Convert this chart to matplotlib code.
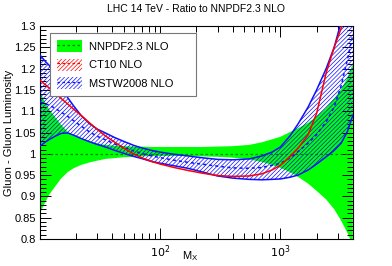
import matplotlib

matplotlib.use("Agg")
import matplotlib.pyplot as plt
from matplotlib.lines import Line2D
from matplotlib.patches import Patch
from matplotlib.ticker import FixedLocator, FormatStrFormatter, MultipleLocator, NullFormatter

# invariant mass grid (GeV)
MX = [10, 11, 12, 13.5, 15, 17, 19, 22, 26, 30, 35, 42, 50, 60, 70, 85, 100, 130, 170,
      220, 300, 400, 550, 700, 850, 1000, 1200, 1400, 1700, 2000, 2400, 2800, 3200, 3600, 4000]

# NNPDF2.3 NLO band (ratio to itself, central = 1)
NNPDF_UP = [1.145, 1.122, 1.103, 1.085, 1.068, 1.052, 1.043, 1.036, 1.029, 1.024, 1.021, 1.019,
            1.018, 1.017, 1.017, 1.016, 1.016, 1.016, 1.016, 1.016, 1.017, 1.018, 1.021, 1.027,
            1.034, 1.040, 1.051, 1.060, 1.073, 1.088, 1.108, 1.130, 1.152, 1.178, 1.212]
NNPDF_LO = [0.860, 0.885, 0.905, 0.925, 0.942, 0.957, 0.966, 0.974, 0.980, 0.984, 0.988, 0.990,
            0.992, 0.993, 0.994, 0.995, 0.995, 0.995, 0.995, 0.994, 0.993, 0.991, 0.987, 0.981,
            0.974, 0.967, 0.957, 0.946, 0.930, 0.913, 0.893, 0.870, 0.843, 0.815, 0.785]

# MSTW2008 NLO
MSTW_C = [1.122, 1.118, 1.114, 1.106, 1.098, 1.088, 1.078, 1.065, 1.051, 1.041, 1.033, 1.023,
          1.015, 1.007, 1.001, 0.995, 0.991, 0.985, 0.980, 0.976, 0.971, 0.967, 0.966, 0.968,
          0.973, 0.978, 0.990, 1.005, 1.025, 1.045, 1.075, 1.110, 1.160, 1.220, 1.280]
MSTW_UP = [1.232, 1.218, 1.207, 1.180, 1.155, 1.132, 1.113, 1.090, 1.070, 1.058, 1.049, 1.038,
           1.029, 1.020, 1.014, 1.008, 1.004, 0.999, 0.995, 0.991, 0.987, 0.986, 0.988, 0.995,
           1.004, 1.016, 1.042, 1.070, 1.110, 1.150, 1.200, 1.250, 1.310, 1.370, 1.430]
MSTW_LO = [1.018, 1.027, 1.034, 1.042, 1.048, 1.049, 1.044, 1.036, 1.028, 1.022, 1.016, 1.008,
           1.001, 0.994, 0.989, 0.982, 0.978, 0.972, 0.966, 0.958, 0.948, 0.943, 0.940, 0.939,
           0.940, 0.941, 0.945, 0.950, 0.962, 0.976, 0.993, 1.008, 1.025, 1.052, 1.090]

# CT10 NLO
CT10_C = [1.173, 1.163, 1.154, 1.141, 1.130, 1.117, 1.105, 1.090, 1.072, 1.057, 1.042, 1.027,
          1.013, 1.000, 0.991, 0.982, 0.976, 0.968, 0.961, 0.955, 0.949, 0.947, 0.948, 0.953,
          0.962, 0.973, 0.993, 1.013, 1.045, 1.095, 1.190, 1.250, 1.295, 1.340, 1.380]

GREEN = "#00ff00"
DKGREEN = "#008000"
BLUE = "#1010ff"
RED = "#ff0000"
HATCH = "////////"


def configure_style() -> None:
    plt.rcParams.update(
        {
            "font.family": ["Liberation Sans", "DejaVu Sans"],
            "font.size": 8,
            "hatch.linewidth": 0.5,
            "axes.linewidth": 0.8,
        }
    )


def main() -> None:
    configure_style()
    fig = plt.figure(figsize=(3.92, 2.66), dpi=100)
    ax = fig.add_axes([0.102, 0.1015, 0.798, 0.8005])

    ones = [1.0] * len(MX)

    # NNPDF band
    ax.fill_between(MX, NNPDF_LO, NNPDF_UP, facecolor=GREEN, edgecolor="none", zorder=1)
    ax.plot(MX, ones, color=DKGREEN, lw=0.9, ls=(0, (2, 2)), zorder=2)

    # MSTW band
    ax.fill_between(MX, MSTW_LO, MSTW_UP, facecolor="none", edgecolor=BLUE,
                    hatch=HATCH, linewidth=0, zorder=3)
    ax.plot(MX, MSTW_UP, color=BLUE, lw=1.1, zorder=4)
    ax.plot(MX, MSTW_LO, color=BLUE, lw=1.1, zorder=4)
    ax.plot(MX, MSTW_C, color=BLUE, lw=1.1, ls=(0, (2, 2)), zorder=4)

    # CT10
    ax.plot(MX, CT10_C, color=RED, lw=1.1, zorder=5)

    ax.set_xscale("log")
    ax.set_xlim(10, 4000)
    ax.set_ylim(0.8, 1.3)

    ax.xaxis.set_major_locator(FixedLocator([100, 1000]))
    ax.set_xticklabels([r"$10^2$", r"$10^3$"])
    minors = [m * d for d in (10, 100, 1000) for m in range(2, 10) if 10 < m * d < 4000]
    ax.xaxis.set_minor_locator(FixedLocator(minors))
    ax.xaxis.set_minor_formatter(NullFormatter())

    ax.yaxis.set_major_locator(MultipleLocator(0.05))
    ax.yaxis.set_minor_locator(MultipleLocator(0.01))
    ax.yaxis.set_major_formatter(FormatStrFormatter("%g"))

    ax.tick_params(which="both", direction="in", top=True, right=True, labelsize=8)
    ax.tick_params(which="major", length=8, width=0.7, pad=3)
    ax.tick_params(which="minor", length=4, width=0.7)

    handles = [
        (Patch(facecolor=GREEN, edgecolor="none"),
         Line2D([], [], color=DKGREEN, lw=0.9, ls=(0, (2, 2)))),
        (Patch(facecolor="none", edgecolor=RED, hatch=HATCH, lw=0),
         Line2D([], [], color=RED, lw=0.9, ls=(0, (2, 2)))),
        (Patch(facecolor="none", edgecolor=BLUE, hatch=HATCH, lw=0),
         Line2D([], [], color=BLUE, lw=0.9, ls=(0, (2, 2)))),
    ]
    labels = ["NNPDF2.3 NLO", "CT10 NLO", "MSTW2008 NLO"]
    leg = ax.legend(handles, labels, loc="upper left", bbox_to_anchor=(0.032, 0.967, 0.467, 0.0),
                    mode="expand", borderaxespad=0, fancybox=False, framealpha=1,
                    edgecolor="#777777", fontsize=8, handlelength=2.3, handleheight=1.3,
                    labelspacing=0.6, handletextpad=0.6, borderpad=0.6)
    leg.get_frame().set_linewidth(0.8)
    leg.set_zorder(10)

    fig.text(0.5, 0.965, "LHC 14 TeV - Ratio to NNPDF2.3 NLO", ha="center", va="center", fontsize=7.5)
    fig.text(0.022, 0.5, "Gluon - Gluon Luminosity", ha="center", va="center", rotation=90, fontsize=8)
    fig.text(0.485, 0.038, r"M$_\mathregular{X}$", ha="center", va="center", fontsize=8)

    fig.savefig("out.png", dpi=100, facecolor="white")
    plt.close(fig)


if __name__ == "__main__":
    main()
